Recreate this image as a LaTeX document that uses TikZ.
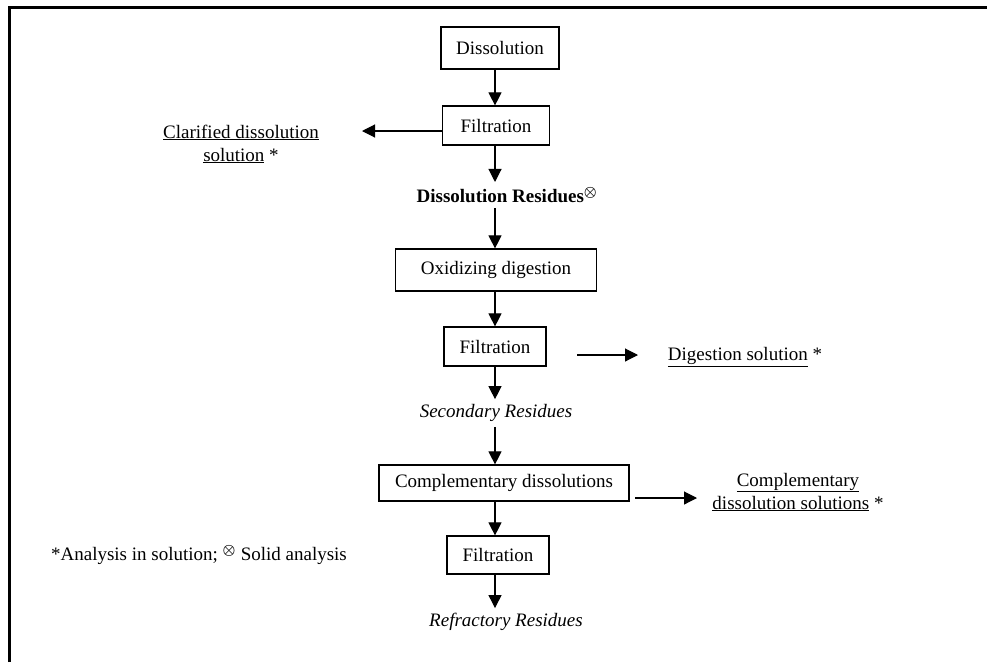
\documentclass[tikz,border=0pt]{standalone}
\usepackage{fontspec}
\usepackage{bm}
\setmainfont{Liberation Serif}
\usetikzlibrary{arrows.meta, positioning}

\newcommand{\solidmark}{\textsuperscript{\fontsize{15}{15}\selectfont$\bm{\otimes}$}}

\begin{document}
\begin{tikzpicture}[x=1pt, y=-1pt,
    box/.style={draw, line width=1.2pt, inner sep=0pt, font=\fontsize{19}{23}\selectfont},
    txt/.style={inner sep=5pt, align=center, font=\fontsize{19}{23}\selectfont},
    arr/.style={line width=1.1pt, -{Triangle[length=13pt, width=13pt]}}]
    \useasboundingbox (0, 0) rectangle (987, 662);
    \draw[line width=3pt] (9, 662) -- (9, 7) -- (987, 7);

    \coordinate (ax) at (495, 0);
    \node[box, minimum width=118, minimum height=42] (dis) at (500, 48) {Dissolution};
    \node[box, minimum width=107, minimum height=39] (f1) at (496, 125.5) {Filtration};
    \node[txt] (clar) at (241, 144) {\underline{Clarified dissolution}\\\underline{solution} *};
    \node[txt, font=\fontsize{19}{23}\selectfont\bfseries] (res1) at (507, 195) {Dissolution Residues\solidmark};
    \node[box, minimum width=201, minimum height=42] (oxd) at (496, 270) {Oxidizing digestion};
    \node[box, minimum width=102, minimum height=39] (f2) at (495, 346.5) {Filtration};
    \node[txt] (dig) at (745, 357) {\underline{Digestion solution} *};
    \node[txt, font=\fontsize{19}{23}\selectfont\itshape] (res2) at (496, 413) {Secondary Residues};
    \node[box, minimum width=250, minimum height=36] (comp) at (504, 483) {Complementary dissolutions};
    \node[txt] (csol) at (798, 492) {\underline{Complementary}\\\underline{dissolution solutions} *};
    \node[box, minimum width=102, minimum height=38] (f3) at (498, 555) {Filtration};
    \node[txt, font=\fontsize{19}{23}\selectfont\itshape] (res3) at (506, 622) {Refractory Residues};
    \node[txt] (note) at (199, 555) {*Analysis in solution; \solidmark{} Solid analysis};

    \coordinate (c1) at (362, 131);
    \coordinate (d1) at (577, 355);
    \coordinate (d2) at (638, 355);
    \coordinate (e1) at (635, 498);
    \coordinate (e2) at (697, 498);

    \draw
    (dis.south -| ax) edge[arr] (f1.north -| ax)
    (f1.west |- c1) edge[arr] (c1)
    (f1.south -| ax) edge[arr] (res1.north -| ax)
    (res1.south -| ax) edge[arr] (oxd.north -| ax)
    (oxd.south -| ax) edge[arr] (f2.north -| ax)
    (d1) edge[arr] (d2)
    (f2.south -| ax) edge[arr] (res2.north -| ax)
    (res2.south -| ax) edge[arr] (comp.north -| ax)
    (e1) edge[arr] (e2)
    (comp.south -| ax) edge[arr] (f3.north -| ax)
    (f3.south -| ax) edge[arr] (res3.north -| ax);
\end{tikzpicture}
\end{document}
